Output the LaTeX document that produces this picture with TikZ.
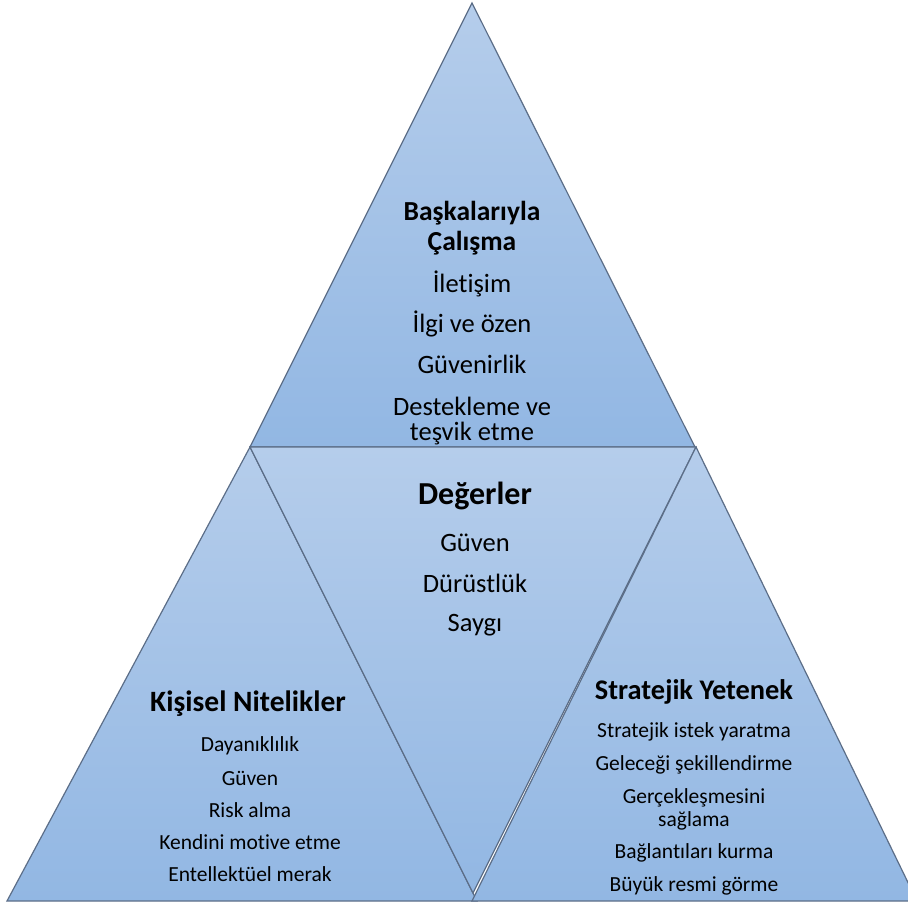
\documentclass[tikz,border=0pt]{standalone}
\usepackage{fontspec}
\setmainfont{Carlito}[Ligatures=NoCommon]
\definecolor{facetTop}{RGB}{181,205,235}
\definecolor{facetBot}{RGB}{146,183,227}
\definecolor{facetEdge}{RGB}{92,110,136}
\begin{document}
\begin{tikzpicture}[x=1pt,y=-1pt,
  facet/.style={draw=facetEdge, line width=1.2pt, line join=miter,
    top color=facetTop, bottom color=facetBot},
  headL/.style={font=\bfseries\fontsize{27.5}{30}\selectfont, inner sep=0},
  headXL/.style={font=\bfseries\fontsize{32}{35}\selectfont, inner sep=0},
  headM/.style={font=\bfseries\fontsize{29.5}{32}\selectfont, inner sep=0},
  headR/.style={font=\bfseries\fontsize{28.4}{31}\selectfont, inner sep=0},
  itemL/.style={font=\fontsize{26.5}{29}\selectfont, inner sep=0},
  itemS/.style={font=\fontsize{21.5}{24}\selectfont, inner sep=0}]
\useasboundingbox (0,0) rectangle (908,906);
\clip (0,0) rectangle (908,906);

% four facets of the pyramid
\draw[facet] (472,3) -- (695,447) -- (250,447) -- cycle;
\draw[facet] (250,447) -- (477,901) -- (7,901) -- cycle;
\draw[facet] (250,447) -- (696,447) -- (473,893) -- cycle;
\draw[facet] (696,447) -- (917,901) -- (472,901) -- cycle;

% top facet
\node[headL] (t1) at (472,213) {Başkalarıyla};
\node[headL] (t2) at (472,243) {Çalışma};
\node[itemL] (t3) at (472,284) {İletişim};
\node[itemL] (t4) at (472,324) {İlgi ve özen};
\node[itemL] (t5) at (472,364) {Güvenirlik};
\node[itemL] (t6) at (472,406) {Destekleme ve};
\node[itemL] (t7) at (472,434) {teşvik etme};

% centre facet
\node[headXL] (m1) at (475,496) {Değerler};
\node[itemL] (m2) at (475,543) {Güven};
\node[itemL] (m3) at (475,583) {Dürüstlük};
\node[itemL] (m4) at (475,625) {Saygı};

% left facet
\node[headM] (l1) at (248,704) {Kişisel Nitelikler};
\node[itemS] (l2) at (250,746) {Dayanıklılık};
\node[itemS] (l3) at (250,778) {Güven};
\node[itemS] (l4) at (250,810) {Risk alma};
\node[itemS] (l5) at (250,842) {Kendini motive etme};
\node[itemS] (l6) at (250,874) {Entellektüel merak};

% right facet
\node[headR] (r1) at (694,692) {Stratejik Yetenek};
\node[itemS] (r2) at (694,732) {Stratejik istek yaratma};
\node[itemS] (r3) at (694,765) {Geleceği şekillendirme};
\node[itemS] (r4) at (694,798) {Gerçekleşmesini};
\node[itemS] (r5) at (694,821) {sağlama};
\node[itemS] (r6) at (694,853) {Bağlantıları kurma};
\node[itemS] (r7) at (694,886) {Büyük resmi görme};
\end{tikzpicture}
\end{document}
